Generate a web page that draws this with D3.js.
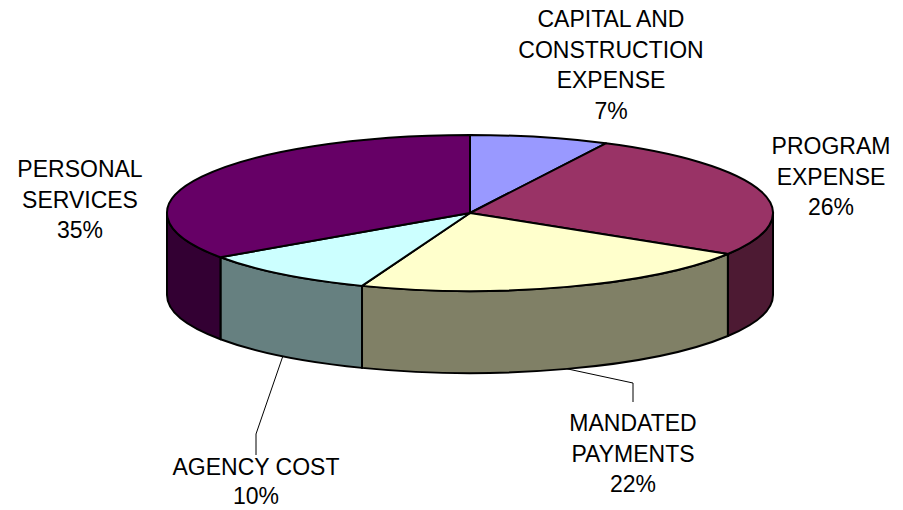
<!DOCTYPE html>
<html>
<head>
<meta charset="utf-8">
<script src="https://cdn.jsdelivr.net/npm/d3@7"></script>
<style>
  body { margin: 0; background: #fff; }
  svg { display: block; }
  text { font-family: "Liberation Sans", Arial, sans-serif; font-size: 23px; fill: #000; }
</style>
</head>
<body>
<script>
// slices, clockwise from 12 o'clock
const categories = ["CAPITAL AND CONSTRUCTION EXPENSE", "PROGRAM EXPENSE", "MANDATED PAYMENTS", "AGENCY COST", "PERSONAL SERVICES"]
const labelLines = [["CAPITAL AND", "CONSTRUCTION", "EXPENSE"], ["PROGRAM", "EXPENSE"], ["MANDATED", "PAYMENTS"], ["AGENCY COST"], ["PERSONAL", "SERVICES"]]
const shares = [7.4, 26.4, 22.0, 9.6, 34.6]
const colors = ["#9999FF", "#993366", "#FFFFCC", "#CCFFFF", "#660066"]

const width = 903, height = 510
const cx = 470, cy = 213, rx = 303, ry = 78, depth = 82

// where each label sits (center x, first baseline, line gap) and leader elbow if any
const labelLayout = [
  {x: 611, y: 27, gap: 30.5},
  {x: 831, y: 154, gap: 30.5},
  {x: 633, y: 431, gap: 30.5, elbow: 383, end: 402},
  {x: 256, y: 475, gap: 28.5, elbow: 434, end: 455},
  {x: 80, y: 177, gap: 30.5}
]

const data = categories.map((c, i) => ({name: c, lines: labelLines[i], value: shares[i], color: colors[i]}))

const pie = d3.pie().value(d => d.value).sort(null).startAngle(0).endAngle(2 * Math.PI)
const arcs = pie(data)

const pt = (a, dy = 0) => [cx + rx * Math.sin(a), cy - ry * Math.cos(a) + dy]
const A = (large, sweep, p) => `A${rx},${ry} 0 ${large} ${sweep} ${p[0]},${p[1]}`

const topPath = d => {
  const p0 = pt(d.startAngle), p1 = pt(d.endAngle)
  const large = d.endAngle - d.startAngle > Math.PI ? 1 : 0
  return `M${cx},${cy}L${p0[0]},${p0[1]}${A(large, 1, p1)}Z`
}

// outer wall only for the front half (PI/2 .. 3PI/2)
const wallPath = d => {
  const a0 = Math.max(d.startAngle, Math.PI / 2)
  const a1 = Math.min(d.endAngle, 3 * Math.PI / 2)
  if (a1 <= a0) return null
  const t0 = pt(a0), t1 = pt(a1), b0 = pt(a0, depth), b1 = pt(a1, depth)
  return `M${t0[0]},${t0[1]}${A(0, 1, t1)}L${b1[0]},${b1[1]}${A(0, 0, b0)}Z`
}

const svg = d3.select("body").append("svg")
  .attr("width", width)
  .attr("height", height)
  .attr("viewBox", [0, 0, width, height])

const shade = c => {
  const k = d3.rgb(c)
  return d3.rgb(k.r * 0.5, k.g * 0.5, k.b * 0.5)
}

svg.append("g")
  .selectAll("path")
  .data(arcs.filter(d => wallPath(d)))
  .join("path")
  .attr("d", wallPath)
  .attr("fill", d => shade(d.data.color))
  .attr("stroke", "#000")
  .attr("stroke-width", 2)
  .attr("stroke-linejoin", "round")

svg.append("g")
  .selectAll("path")
  .data(arcs)
  .join("path")
  .attr("d", topPath)
  .attr("fill", d => d.data.color)
  .attr("stroke", "#000")
  .attr("stroke-width", 2)
  .attr("stroke-linejoin", "round")

// leader lines
svg.append("g")
  .selectAll("path")
  .data(arcs.filter((d, i) => labelLayout[i].elbow))
  .join("path")
  .attr("fill", "none")
  .attr("stroke", "#000")
  .attr("stroke-width", 1)
  .attr("d", d => {
    const L = labelLayout[d.index]
    const s = pt((d.startAngle + d.endAngle) / 2, depth)
    return `M${s[0]},${s[1]}L${L.x},${L.elbow}L${L.x},${L.end}`
  })

const fmt = d3.format(".0%")
const labels = svg.append("g")
  .selectAll("text")
  .data(arcs)
  .join("text")
  .attr("text-anchor", "middle")
  .attr("x", d => labelLayout[d.index].x)
  .attr("y", d => labelLayout[d.index].y)

labels.selectAll("tspan")
  .data(d => {
    const L = labelLayout[d.index]
    return [...d.data.lines, fmt(d.data.value / 100)].map(t => ({t, x: L.x, gap: L.gap}))
  })
  .join("tspan")
  .attr("x", d => d.x)
  .attr("dy", (d, i) => i ? d.gap : 0)
  .text(d => d.t)
</script>
</body>
</html>
